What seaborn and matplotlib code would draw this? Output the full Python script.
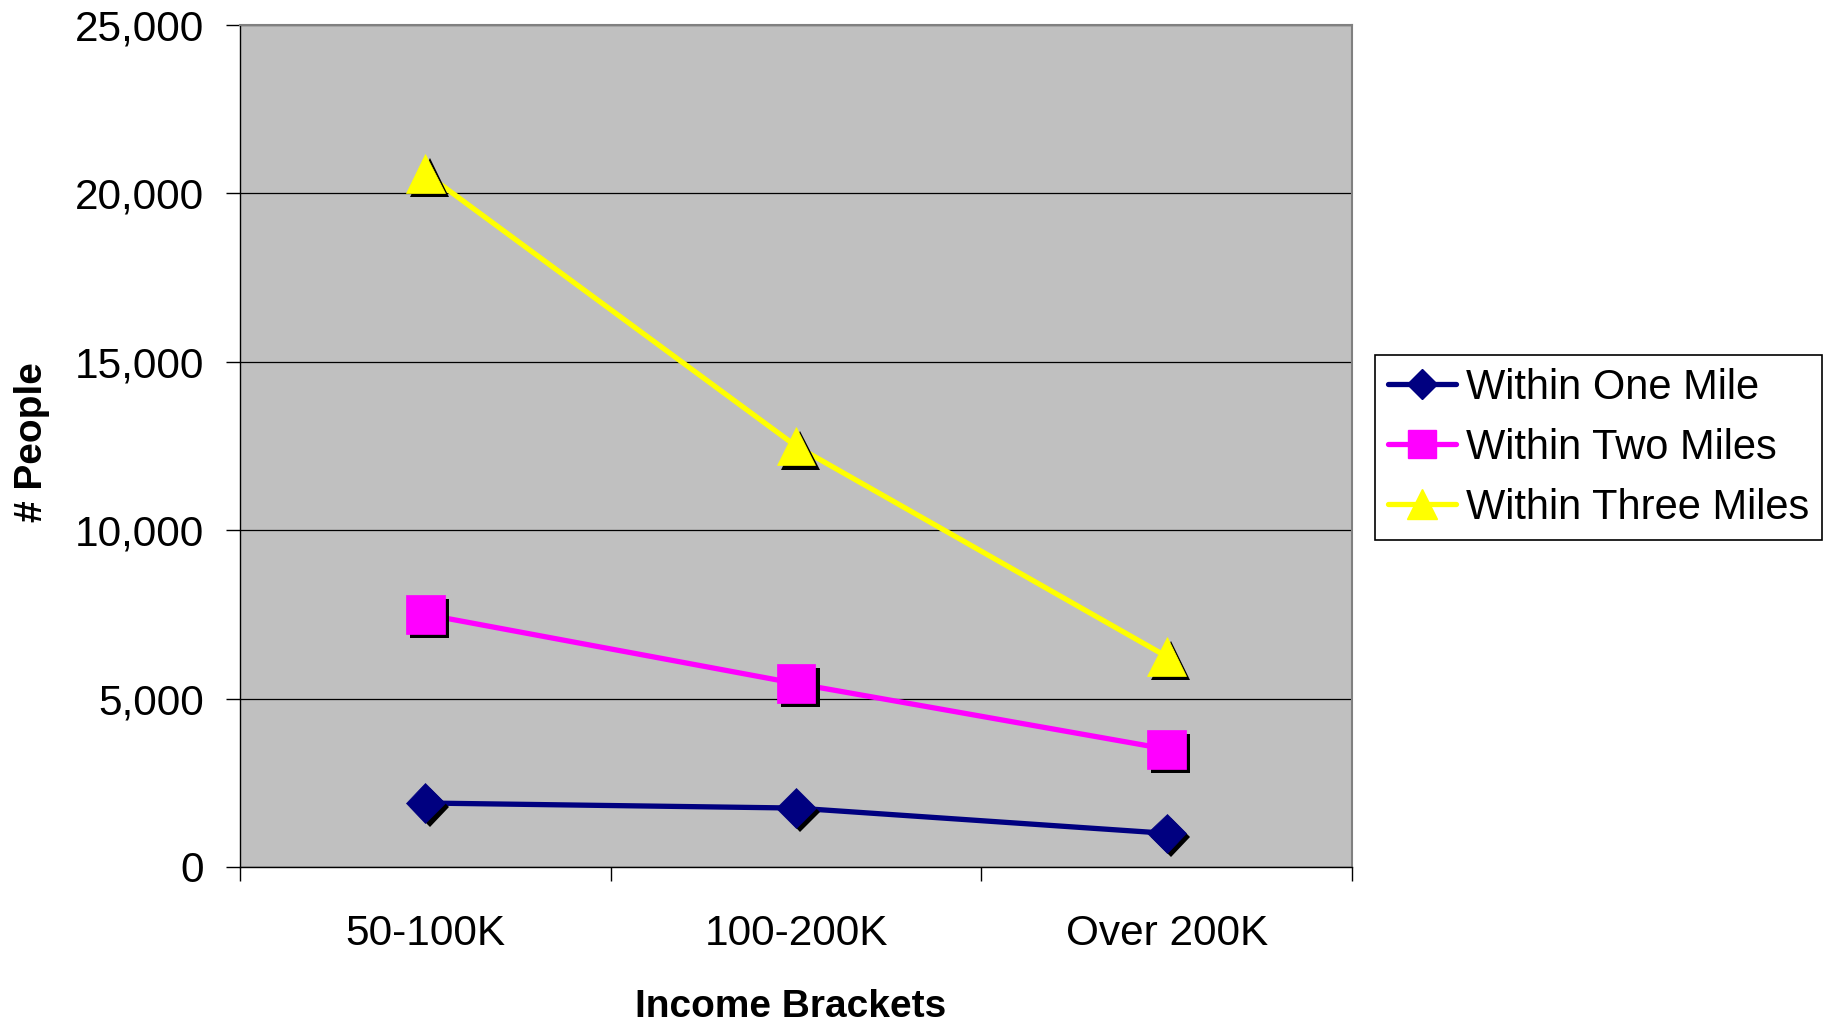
import matplotlib
matplotlib.use("Agg")
import matplotlib.pyplot as plt
import matplotlib.patheffects as pe
from matplotlib.lines import Line2D
import seaborn as sns
import pandas as pd

# ---- data -------------------------------------------------------------
brackets = ["50-100K", "100-200K", "Over 200K"]
series_names = ["Within One Mile", "Within Two Miles", "Within Three Miles"]
one_mile = [1900, 1750, 1000]
two_miles = [7500, 5450, 3500]
three_miles = [20600, 12500, 6250]
y_ticks = [0, 5000, 10000, 15000, 20000, 25000]
y_tick_labels = ["0", "5,000", "10,000", "15,000", "20,000", "25,000"]

# ---- styling ----------------------------------------------------------
colors = ["#000080", "#FF00FF", "#FFFF00"]
markers = ["D", "s", "^"]
marker_sizes = [20, 28, 28]
legend_marker_sizes = [15, 20.5, 21.5]

sns.set_style("white")
plt.rcParams["font.family"] = ["Liberation Sans", "DejaVu Sans"]
plt.rcParams["text.color"] = "black"
plt.rcParams["axes.labelcolor"] = "black"
plt.rcParams["xtick.color"] = "black"
plt.rcParams["ytick.color"] = "black"

fig = plt.figure(figsize=(18.27, 10.26), dpi=100)
ax = fig.add_axes([240 / 1827, 1 - 867 / 1026, 1112 / 1827, 842 / 1026])
ax.set_facecolor("#C0C0C0")

frames = []
for name, vals in zip(series_names, [one_mile, two_miles, three_miles]):
    frames.append(pd.DataFrame({"bracket": brackets, "people": vals, "series": name}))
df = pd.concat(frames, ignore_index=True)

shadow = [pe.SimplePatchShadow(offset=(3, -3), shadow_rgbFace="black", alpha=1.0, rho=1.0),
          pe.Normal()]

for name, c, m, ms in zip(series_names, colors, markers, marker_sizes):
    sub = df[df["series"] == name]
    # connecting line
    sns.lineplot(data=sub, x="bracket", y="people", color=c, linewidth=3.8,
                 sort=False, ax=ax, zorder=3, legend=False)
    # markers with a drop shadow
    sns.lineplot(data=sub, x="bracket", y="people", color=c, linestyle="none",
                 marker=m, markersize=ms, markeredgecolor=c, markeredgewidth=0.5,
                 sort=False, ax=ax, zorder=4, legend=False, path_effects=shadow)

# ---- axes ---------------------------------------------------------------
ax.set_xlim(-0.5, 2.5)
ax.set_ylim(0, 25000)
ax.set_yticks(y_ticks)
ax.set_yticklabels(y_tick_labels)
ax.set_xticks([0, 1, 2])
ax.set_xticklabels(brackets)
ax.set_xticks([-0.5, 0.5, 1.5, 2.5], minor=True)

ax.tick_params(axis="y", which="major", direction="out", length=10, width=1,
               color="black", labelcolor="black", labelsize=30.5, pad=16, left=True)
ax.tick_params(axis="x", which="major", length=0, labelsize=30.5, labelcolor="black",
               pad=34, bottom=True)
ax.tick_params(axis="x", which="minor", direction="out", length=10, width=1,
               color="black", bottom=True)

ax.yaxis.grid(True, color="black", lw=0.9)
ax.xaxis.grid(False)
ax.set_axisbelow(True)

for side in ["left", "bottom"]:
    ax.spines[side].set_color("black")
    ax.spines[side].set_linewidth(1.0)
for side in ["top", "right"]:
    ax.spines[side].set_color("#808080")
    ax.spines[side].set_linewidth(1.5)
    ax.spines[side].set_visible(True)

ax.set_xlabel("Income Brackets", fontsize=28, fontweight="bold", color="black")
ax.set_ylabel("# People", fontsize=28, fontweight="bold", color="black")
ax.xaxis.set_label_coords(0.4955, -0.166)
ax.xaxis.label.set_verticalalignment("center")
ax.yaxis.set_label_coords(-0.187, 0.505)
ax.yaxis.label.set_verticalalignment("center")

# ---- legend -------------------------------------------------------------
handles = [Line2D([], [], color=c, lw=3.8, marker=m, markersize=ms,
                  markeredgecolor=c, solid_capstyle="round")
           for c, m, ms in zip(colors, markers, legend_marker_sizes)]
leg = fig.legend(handles, series_names, loc="upper left",
                 bbox_to_anchor=(1375 / 1827, 1 - 355 / 1026),
                 fontsize=30, frameon=True, fancybox=False, shadow=False,
                 handlelength=1.65, handletextpad=0.24, borderpad=0.3,
                 labelspacing=0.48, borderaxespad=0)
leg.get_frame().set_edgecolor("black")
leg.get_frame().set_linewidth(1.2)
leg.get_frame().set_facecolor("white")
leg.get_frame().set_alpha(1)

fig.savefig("out.png", dpi=100, facecolor="white")
